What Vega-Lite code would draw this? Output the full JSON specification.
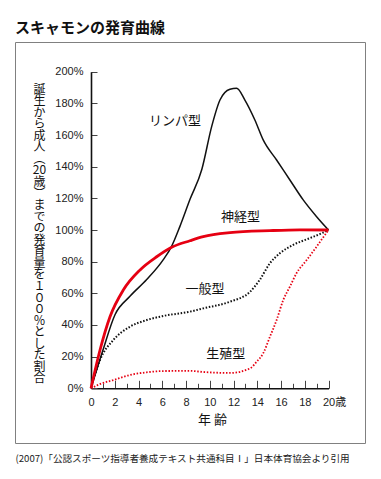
{
  "$schema": "https://vega.github.io/schema/vega-lite/v6.json",
  "autosize": "pad",
  "padding": {"left": 14, "top": 20, "right": 16, "bottom": 16},
  "background": "white",
  "config": {"view": {"stroke": "#808080", "strokeWidth": 1}, "style": {"cell": {"stroke": "#808080", "strokeWidth": 1}}, "font": "Noto Sans CJK JP", "concat": {"spacing": 0}},
  "title": {"text": "スキャモンの発育曲線", "anchor": "start", "frame": "group", "fontSize": 15, "fontWeight": "bold", "font": "Noto Sans CJK JP", "color": "#111", "offset": 6},
  "bounds": "flush",
  "datasets": {
    "curves": [
      {"type": "リンパ型", "age": 0, "pct": 0},
      {"type": "リンパ型", "age": 1.0, "pct": 24},
      {"type": "リンパ型", "age": 2.02, "pct": 46.5},
      {"type": "リンパ型", "age": 3.28, "pct": 58.1},
      {"type": "リンパ型", "age": 4.69, "pct": 68.7},
      {"type": "リンパ型", "age": 6.09, "pct": 81.3},
      {"type": "リンパ型", "age": 6.79, "pct": 89.7},
      {"type": "リンパ型", "age": 7.49, "pct": 102.3},
      {"type": "リンパ型", "age": 8.33, "pct": 119.2},
      {"type": "リンパ型", "age": 9.33, "pct": 138.2},
      {"type": "リンパ型", "age": 10.16, "pct": 165.3},
      {"type": "リンパ型", "age": 10.86, "pct": 182.1},
      {"type": "リンパ型", "age": 11.7, "pct": 188.9},
      {"type": "リンパ型", "age": 12.26, "pct": 189.5},
      {"type": "リンパ型", "age": 12.96, "pct": 182.1},
      {"type": "リンパ型", "age": 13.8, "pct": 169.5},
      {"type": "リンパ型", "age": 14.5, "pct": 156.9},
      {"type": "リンパ型", "age": 15.63, "pct": 144.2},
      {"type": "リンパ型", "age": 16.75, "pct": 131.6},
      {"type": "リンパ型", "age": 17.87, "pct": 119},
      {"type": "リンパ型", "age": 19.0, "pct": 108.4},
      {"type": "リンパ型", "age": 20, "pct": 100},
      {"type": "神経型", "age": 0, "pct": 0},
      {"type": "神経型", "age": 0.76, "pct": 24.2},
      {"type": "神経型", "age": 1.6, "pct": 45.2},
      {"type": "神経型", "age": 2.72, "pct": 62.1},
      {"type": "神経型", "age": 4.13, "pct": 74.8},
      {"type": "神経型", "age": 5.53, "pct": 83.1},
      {"type": "神経型", "age": 6.79, "pct": 89.1},
      {"type": "神経型", "age": 8.33, "pct": 93.2},
      {"type": "神経型", "age": 9.45, "pct": 95.8},
      {"type": "神経型", "age": 11.7, "pct": 98.3},
      {"type": "神経型", "age": 15.07, "pct": 99.6},
      {"type": "神経型", "age": 17.6, "pct": 100.1},
      {"type": "神経型", "age": 20, "pct": 100},
      {"type": "一般型", "age": 0, "pct": 0},
      {"type": "一般型", "age": 0.76, "pct": 17.9},
      {"type": "一般型", "age": 1.88, "pct": 30.5},
      {"type": "一般型", "age": 3.28, "pct": 38.9},
      {"type": "一般型", "age": 4.69, "pct": 43.1},
      {"type": "一般型", "age": 6.09, "pct": 45.7},
      {"type": "一般型", "age": 8.33, "pct": 48.4},
      {"type": "一般型", "age": 9.45, "pct": 50.5},
      {"type": "一般型", "age": 11.7, "pct": 54.7},
      {"type": "一般型", "age": 13.4, "pct": 61},
      {"type": "一般型", "age": 14.2, "pct": 68.4},
      {"type": "一般型", "age": 15.07, "pct": 79},
      {"type": "一般型", "age": 15.9, "pct": 85.3},
      {"type": "一般型", "age": 17.0, "pct": 90.5},
      {"type": "一般型", "age": 18.4, "pct": 94.8},
      {"type": "一般型", "age": 19.3, "pct": 97.5},
      {"type": "一般型", "age": 20, "pct": 100},
      {"type": "生殖型", "age": 0, "pct": 0},
      {"type": "生殖型", "age": 0.8, "pct": 2.8},
      {"type": "生殖型", "age": 1.88, "pct": 5.2},
      {"type": "生殖型", "age": 3.28, "pct": 8.4},
      {"type": "生殖型", "age": 4.69, "pct": 10.1},
      {"type": "生殖型", "age": 6.09, "pct": 10.9},
      {"type": "生殖型", "age": 8.33, "pct": 11.0},
      {"type": "生殖型", "age": 9.45, "pct": 10.3},
      {"type": "生殖型", "age": 11.7, "pct": 9.7},
      {"type": "生殖型", "age": 13.4, "pct": 12.6},
      {"type": "生殖型", "age": 13.95, "pct": 16.8},
      {"type": "生殖型", "age": 14.5, "pct": 22.1},
      {"type": "生殖型", "age": 15.07, "pct": 32.6},
      {"type": "生殖型", "age": 15.63, "pct": 43.1},
      {"type": "生殖型", "age": 16.19, "pct": 55.8},
      {"type": "生殖型", "age": 16.75, "pct": 64.2},
      {"type": "生殖型", "age": 17.3, "pct": 72.6},
      {"type": "生殖型", "age": 18.16, "pct": 81},
      {"type": "生殖型", "age": 19.0, "pct": 89.5},
      {"type": "生殖型", "age": 19.7, "pct": 96.9},
      {"type": "生殖型", "age": 20, "pct": 100}
    ],
    "labels": [
      {"type": "リンパ型", "age": 7.07, "pct": 168.9},
      {"type": "神経型", "age": 12.58, "pct": 108.4},
      {"type": "一般型", "age": 9.6, "pct": 62.7},
      {"type": "生殖型", "age": 11.35, "pct": 21.7}
    ]
  },
  "vconcat": [
    {
      "width": 350,
      "height": 401,
      "view": {"stroke": "#808080", "strokeWidth": 1},
      "resolve": {"axis": {"x": "independent", "y": "independent"}},
      "layer": [
        {
          "data": {"name": "curves"},
          "encoding": {
            "x": {
              "field": "age", "type": "quantitative",
              "scale": {"domain": [0, 20], "range": [76, 313.5], "nice": false, "zero": false},
              "axis": {
                "orient": "bottom", "offset": -54.7,
                "values": [0,1,2,3,4,5,6,7,8,9,10,11,12,13,14,15,16,17,18,19,20],
                "labelExpr": "datum.value % 2 === 0 ? (datum.value === 20 ? '20歳' : datum.label) : ''",
                "labelAlign": {"condition": {"test": "datum.value === 20", "value": "left"}, "value": "center"},
                "labelOffset": {"condition": {"test": "datum.value === 20", "value": -6}, "value": 0},
                "labelFont": "Liberation Sans, Noto Sans CJK JP",
                "labelFontSize": 11, "labelColor": "#222",
                "labelPadding": 16, "labelFlush": false, "labelOverlap": false,
                "tickSize": {"condition": {"test": "datum.value % 2 === 0", "value": -8}, "value": -5},
                "tickColor": "#444", "tickWidth": 1,
                "domainColor": "#111", "domainWidth": 1.6,
                "grid": false,
                "title": "年 齢", "titleFont": "Noto Sans CJK JP", "titleFontSize": 13, "titleFontWeight": "normal",
                "titleColor": "#111", "titleX": 197, "titleY": 31, "titleBaseline": "middle", "titleAlign": "center", "titleAnchor": null
              }
            },
            "y": {
              "field": "pct", "type": "quantitative",
              "scale": {"domain": [0, 200], "range": [346.3, 29.7], "nice": false, "zero": false},
              "axis": {
                "orient": "left", "offset": -76,
                "values": [0,20,40,60,80,100,120,140,160,180,200],
                "labelExpr": "datum.value + '%'",
                "labelFont": "Liberation Sans", "labelFontSize": 11, "labelColor": "#222",
                "labelPadding": 14, "labelFlush": false, "labelOverlap": false,
                "tickSize": -6, "tickColor": "#444", "tickWidth": 1,
                "domainColor": "#111", "domainWidth": 1.6,
                "grid": false,
                "title": ["誕","生","か","ら","成","人","︵","20","歳","︶","ま","で","の","発","育","量","を","１","０","０","％","と","し","た","割","合"],
                "titleFont": "Noto Sans CJK JP", "titleFontSize": 12, "titleFontWeight": "normal", "titleColor": "#111",
                "titleAngle": 0, "titleLineHeight": 11.56, "titleAlign": "center", "titleBaseline": "middle",
                "titleX": -52, "titleY": 47, "titleAnchor": null
              }
            }
          },
          "layer": [
            {"transform": [{"filter": "datum.type === '一般型'"}],
             "mark": {"type": "line", "interpolate": "monotone", "color": "#111", "strokeWidth": 2, "strokeDash": [1.5, 1.7]}},
            {"transform": [{"filter": "datum.type === '生殖型'"}],
             "mark": {"type": "line", "interpolate": "monotone", "color": "#e60012", "strokeWidth": 1.8, "strokeDash": [1.5, 1.7]}},
            {"transform": [{"filter": "datum.type === 'リンパ型'"}],
             "mark": {"type": "line", "interpolate": "monotone", "color": "#111", "strokeWidth": 1.5}},
            {"transform": [{"filter": "datum.type === '神経型'"}],
             "mark": {"type": "line", "interpolate": "monotone", "color": "#e60012", "strokeWidth": 2.8}}
          ]
        },
        {
          "data": {"name": "labels"},
          "mark": {"type": "text", "font": "Noto Sans CJK JP", "fontSize": 13, "color": "#111", "align": "center", "baseline": "middle"},
          "encoding": {
            "x": {
              "field": "age", "type": "quantitative",
              "scale": {"domain": [0, 20], "range": [76, 313.5], "nice": false, "zero": false},
              "axis": {
                "orient": "bottom", "offset": 0, "domain": false, "ticks": false, "labels": false, "grid": false,
                "title": "(2007)「公認スポーツ指導者養成テキスト共通科目Ⅰ」日本体育協会より引用",
                "titleFont": "Noto Sans CJK JP", "titleFontSize": 9.6, "titleFontWeight": "normal", "titleColor": "#222",
                "titleAnchor": "start", "titleAlign": "left", "titleX": 0, "titleY": 15, "titleBaseline": "middle"
              }
            },
            "y": {"field": "pct", "type": "quantitative", "scale": {"domain": [0, 200], "range": [346.3, 29.7], "nice": false, "zero": false}, "axis": null},
            "text": {"field": "type"}
          }
        }
      ]
    }
  ]
}
